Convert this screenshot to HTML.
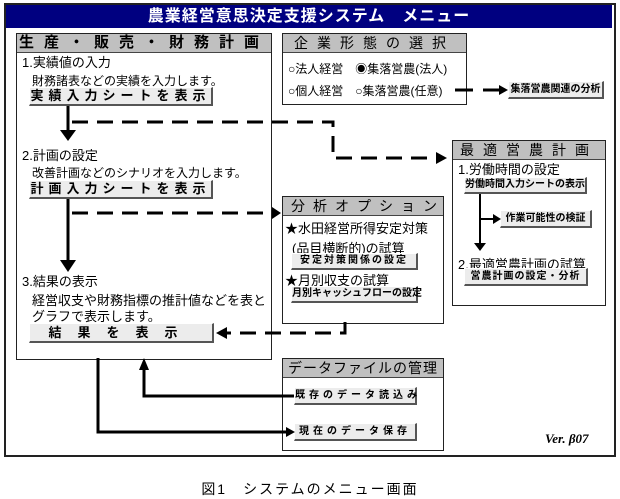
<!DOCTYPE html>
<html><head><meta charset="utf-8"><style>
body{margin:0;width:620px;height:499px;background:#fff;position:relative;overflow:hidden;font-family:"Liberation Sans","Noto Sans CJK JP",sans-serif;color:#000}
.a{position:absolute;white-space:nowrap}
.box{position:absolute;border:1px solid #222;background:#fff}
.hd{position:absolute;background:#c0c0c0;border-bottom:1px solid #444;text-align:center;font-size:14px;line-height:18px;letter-spacing:9px;white-space:nowrap;overflow:hidden}
.btn{position:absolute;background:#ececec;border:1px solid #fff;border-right:2px solid #555;border-bottom:2px solid #555;text-align:center;font-size:11px;font-weight:bold;box-sizing:border-box;white-space:nowrap}
.t{position:absolute;font-size:13px;white-space:nowrap}
</style></head><body>
<div class="box" style="left:4px;top:3px;width:608px;height:450px;border:2px solid #222"></div>
<div class="a" style="left:6px;top:5px;width:606px;height:23px;background:#000080;color:#fff;font-size:16px;font-weight:bold;line-height:23px;text-align:center;letter-spacing:1px">農業経営意思決定支援システム　メニュー</div>

<div class="box" style="left:16px;top:33px;width:254px;height:325px"></div>
<div class="hd" style="left:17px;top:34px;width:254px;font-weight:bold;font-size:15px;letter-spacing:10px">生産・販売・財務計画</div>
<div class="t" style="left:22px;top:52px">1.実績値の入力</div>
<div class="t" style="left:32px;top:72px;font-size:12px">財務諸表などの実績を入力します。</div>
<div class="btn" style="left:29px;top:87px;width:184px;height:19px;font-size:13px;letter-spacing:5px;line-height:16px">実績入力シートを表示</div>
<div class="t" style="left:22px;top:145px">2.計画の設定</div>
<div class="t" style="left:32px;top:164px;font-size:12px">改善計画などのシナリオを入力します。</div>
<div class="btn" style="left:29px;top:180px;width:184px;height:19px;font-size:13px;letter-spacing:5px;line-height:16px">計画入力シートを表示</div>
<div class="t" style="left:22px;top:271px">3.結果の表示</div>
<div class="t" style="left:32px;top:290px">経営収支や財務指標の推計値などを表と</div>
<div class="t" style="left:32px;top:306px">グラフで表示します。</div>
<div class="btn" style="left:29px;top:323px;width:185px;height:20px;font-size:13px;letter-spacing:16px;line-height:17px">結果を表示</div>

<div class="box" style="left:282px;top:33px;width:183px;height:70px"></div>
<div class="hd" style="left:283px;top:34px;width:183px">企業形態の選択</div>
<div class="t" style="left:288px;top:60px;font-size:12px">○法人経営　◉集落営農(法人)</div>
<div class="t" style="left:288px;top:82px;font-size:12px">○個人経営　○集落営農(任意)</div>
<div class="btn" style="left:508px;top:81px;width:96px;height:18px;font-size:10px;line-height:15px">集落営農関連の分析</div>

<div class="box" style="left:452px;top:140px;width:152px;height:164px"></div>
<div class="hd" style="left:453px;top:141px;width:152px">最適営農計画</div>
<div class="t" style="left:458px;top:159px">1.労働時間の設定</div>
<div class="btn" style="left:464px;top:177px;width:123px;height:17px;font-size:10px;line-height:14px">労働時間入力シートの表示</div>
<div class="btn" style="left:500px;top:210px;width:92px;height:18px;font-size:10px;line-height:15px">作業可能性の検証</div>
<div class="t" style="left:458px;top:254px">2.最適営農計画の試算</div>
<div class="btn" style="left:464px;top:268px;width:124px;height:18px;font-size:10px;line-height:15px;letter-spacing:1px">営農計画の設定・分析</div>

<div class="box" style="left:282px;top:196px;width:160px;height:126px"></div>
<div class="hd" style="left:283px;top:197px;width:160px;letter-spacing:8px;text-indent:8px">分析オプション</div>
<div class="t" style="left:285px;top:218px">★水田経営所得安定対策</div>
<div class="t" style="left:292px;top:238px">(品目横断的)の試算</div>
<div class="btn" style="left:291px;top:253px;width:127px;height:17px;font-size:10px;line-height:14px;letter-spacing:2px">安定対策関係の設定</div>
<div class="t" style="left:285px;top:270px">★月別収支の試算</div>
<div class="btn" style="left:291px;top:286px;width:127px;height:17px;font-size:10px;line-height:14px">月別キャッシュフローの設定</div>

<div class="box" style="left:282px;top:358px;width:160px;height:91px"></div>
<div class="hd" style="left:283px;top:359px;width:160px;letter-spacing:1px">データファイルの管理</div>
<div class="btn" style="left:294px;top:387px;width:123px;height:18px;font-size:10px;line-height:15px;letter-spacing:4px">既存のデータ読込み</div>
<div class="btn" style="left:294px;top:423px;width:123px;height:18px;font-size:10px;line-height:15px;letter-spacing:4px">現在のデータ保存</div>

<div class="a" style="left:545px;top:431px;font-family:'Liberation Serif',serif;font-weight:bold;font-style:italic;font-size:13px">Ver. β07</div>
<div class="a" style="left:0;width:620px;top:479px;text-align:center;font-size:14px;letter-spacing:2px">図1　システムのメニュー画面</div>

<svg class="a" style="left:0;top:0" width="620" height="499">
<g stroke="#000" stroke-width="3" fill="none">
<line x1="68" y1="106" x2="68" y2="132"/>
<line x1="68" y1="199" x2="68" y2="262"/>
<path d="M98 358 V432 H288"/>
<path d="M294 396 H144 V368"/>
<line x1="455" y1="90" x2="500" y2="90" stroke-dasharray="18 10"/>
</g>
<g stroke="#000" stroke-width="2" fill="none">
<line x1="480" y1="194" x2="480" y2="243"/>
<line x1="480" y1="219" x2="494" y2="219"/>
</g>
<g stroke="#000" stroke-width="3" fill="none" stroke-dasharray="16 9">
<path d="M72 122 H333 V158 H438"/>
<path d="M72 213 H270"/>
<path d="M345 322 V333 H226"/>
</g>
<g fill="#000">
<polygon points="60,130 76,130 68,141"/>
<polygon points="60,260 76,260 68,272"/>
<polygon points="286,427 295,432 286,437"/>
<polygon points="139,370 149,370 144,358"/>
<polygon points="499,85 508,90 499,95"/>
<polygon points="474,243 486,243 480,251"/>
<polygon points="493,214 501,219 493,224"/>
<polygon points="436,152 447,158 436,164"/>
<polygon points="272,207 281,213 272,219"/>
<polygon points="227,327 216,333 227,339"/>
</g>
</svg>
</body></html>
